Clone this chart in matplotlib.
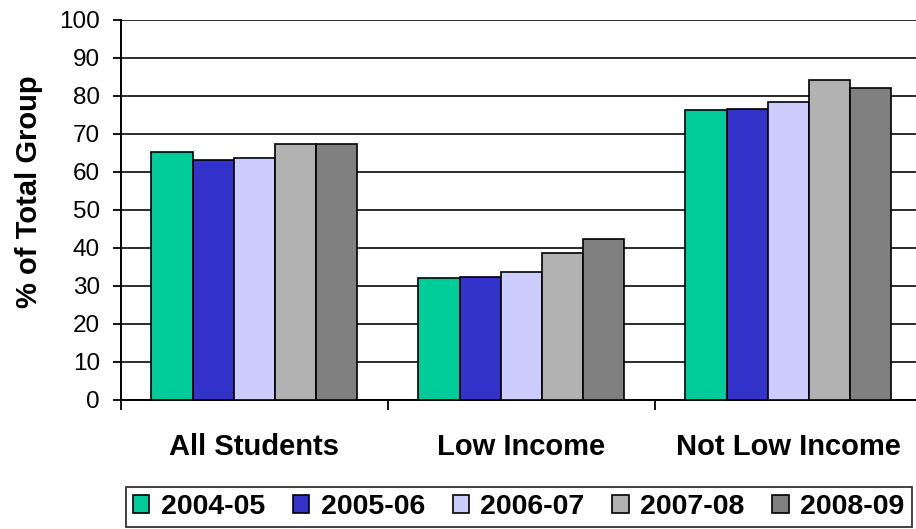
import numpy as np
import matplotlib.pyplot as plt

# Data
groups = ["All Students", "Low Income", "Not Low Income"]
years = ["2004-05", "2005-06", "2006-07", "2007-08", "2008-09"]
v_2004 = [65.3, 32.0, 76.2]
v_2005 = [63.2, 32.4, 76.6]
v_2006 = [63.6, 33.8, 78.3]
v_2007 = [67.4, 38.7, 84.2]
v_2008 = [67.4, 42.5, 82.0]
series = [v_2004, v_2005, v_2006, v_2007, v_2008]
colors = ["#00CC99", "#3333CC", "#CCCCFF", "#B2B2B2", "#808080"]

plt.rcParams.update({
    "font.family": ["Liberation Sans", "DejaVu Sans"],
})

fig = plt.figure(figsize=(9.16, 5.29), dpi=100)
ax = fig.add_axes([120.7 / 916, 1 - 400 / 529, 801 / 916, 380 / 529])

x = np.arange(len(groups))
width = 0.154
for i, (vals, col, lab) in enumerate(zip(series, colors, years)):
    ax.bar(x + (i - 2) * width, vals, width, color=col, edgecolor="black",
           linewidth=1.2, label=lab, zorder=3)

ax.set_ylim(0, 100)
ax.set_xlim(-0.5, 2.5)
ax.set_yticks(np.arange(0, 101, 10))
ax.yaxis.grid(True, color="#1a1a1a", linewidth=1.3, zorder=0)
ax.set_axisbelow(True)

for s in ["top", "right"]:
    ax.spines[s].set_visible(False)
ax.spines["left"].set_linewidth(1.4)
ax.spines["bottom"].set_linewidth(1.4)

# category boundary ticks
ax.set_xticks([-0.5, 0.5, 1.5, 2.5])
ax.set_xticklabels([])
ax.tick_params(axis="x", length=7, width=1.3, direction="out")
ax.tick_params(axis="y", length=6, width=1.3, direction="out", labelsize=17.5, pad=9)
for g, xi in zip(groups, x):
    ax.text(xi, -0.087, g, ha="center", va="top", fontsize=21, fontweight="bold",
            transform=ax.get_xaxis_transform())

ax.set_ylabel("% of Total Group", fontsize=21, fontweight="bold", va="center")
ax.yaxis.set_label_coords(-0.1145, 0.547)

leg = fig.legend(loc="lower left", bbox_to_anchor=(125.7 / 916, 2 / 529, 786 / 916, 41 / 529),
                 mode="expand", ncol=5, frameon=True, fancybox=False,
                 prop={"weight": "bold", "size": 20.5}, handlelength=0.58, handleheight=0.58,
                 handletextpad=0.4, columnspacing=0.6, borderpad=0.25, borderaxespad=0)
leg.get_frame().set_edgecolor("black")
leg.get_frame().set_linewidth(1.3)

fig.savefig("out.png", dpi=100)
